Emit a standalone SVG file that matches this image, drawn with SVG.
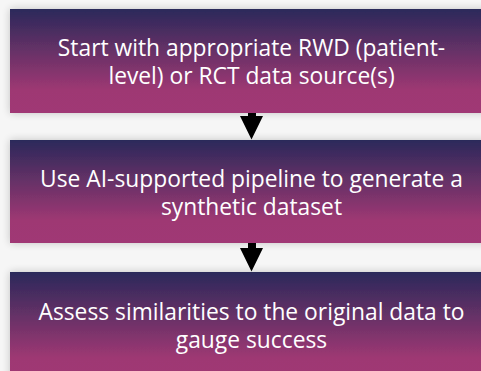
<svg xmlns="http://www.w3.org/2000/svg" width="481" height="371" viewBox="0 0 481 371">
<defs>
<linearGradient id="g" x1="0" y1="0" x2="0" y2="1">
<stop offset="0" stop-color="#2b295a"/>
<stop offset="0.78" stop-color="#9e3873"/>
<stop offset="1" stop-color="#a03874"/>
</linearGradient>
<filter id="sh" x="-10%" y="-20%" width="120%" height="140%">
<feGaussianBlur in="SourceAlpha" stdDeviation="4"/>
<feComponentTransfer><feFuncA type="linear" slope="0.22"/></feComponentTransfer>
<feMerge><feMergeNode/><feMergeNode in="SourceGraphic"/></feMerge>
</filter>
</defs>
<style>
.box{fill:url(#g);filter:url(#sh)}
.t{font-family:"Open Sans","Noto Sans",sans-serif;font-size:22.8px;fill:#ffffff;text-anchor:middle}
.arr{fill:#000000}
</style>
<rect width="481" height="371" fill="#f6f6f6"/>
<g id="node1">
<rect class="box" x="10" y="9" width="483" height="104"/>
<text class="t" x="251.5" y="55.5">Start with appropriate RWD (patient-</text>
<text class="t" x="251.5" y="83.5">level) or RCT data source(s)</text>
</g>
<g id="node2">
<rect class="box" x="10" y="140" width="483" height="103"/>
<text class="t" x="251.5" y="186.5">Use AI-supported pipeline to generate a</text>
<text class="t" x="251.5" y="214.5">synthetic dataset</text>
</g>
<g id="node3">
<rect class="box" x="10" y="272" width="483" height="110"/>
<text class="t" x="251.5" y="319.5">Assess similarities to the original data to</text>
<text class="t" x="251.5" y="347.5">gauge success</text>
</g>
<g id="connectors">
<path class="arr" d="M248,113 H256 V116 H263 L251.5,139.5 L240,116 H248 Z"/>
<path class="arr" d="M248,243 H256 V248 H263 L251.5,271.5 L240,248 H248 Z"/>
</g>
</svg>
